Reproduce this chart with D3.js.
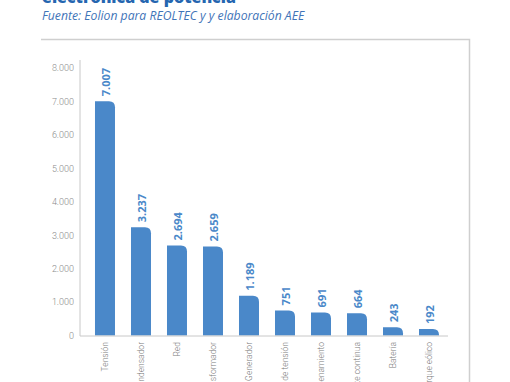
<!DOCTYPE html>
<html><head><meta charset="utf-8">
<script src="https://cdn.jsdelivr.net/npm/d3@7"></script>
<style>body{margin:0;background:#fff}svg{display:block}</style>
</head><body>
<script>
const categories = ["Tensión","Condensador","Red","Transformador","Generador","Regulador de tensión","Almacenamiento","Corriente continua","Batería","Parque eólico"];
const values = [7007,3237,2694,2659,1189,751,691,664,243,192];
const valueLabels = ["7.007","3.237","2.694","2.659","1.189","751","691","664","243","192"];
const yTicks = [0,1000,2000,3000,4000,5000,6000,7000,8000];
const yTickLabels = ["0","1.000","2.000","3.000","4.000","5.000","6.000","7.000","8.000"];
const title = "electrónica de potencia";
const subtitle = "Fuente: Eolion para REOLTEC y y elaboración AEE";

const W = 510, H = 382;
const svg = d3.select("body").append("svg").attr("width", W).attr("height", H);
const blue = "#4a88c9";

svg.append("text").attr("x", 42).attr("y", 3).text(title)
  .attr("font-family", "Open Sans, sans-serif").attr("font-weight", 800)
  .attr("font-size", 16).attr("fill", "#2566b0");
svg.append("text").attr("x", 42).attr("y", 20).text(subtitle)
  .attr("font-family", "Open Sans, sans-serif").attr("font-style", "italic")
  .attr("font-size", 12.2).attr("fill", "#3f74b8");

// frame
svg.append("path").attr("d", "M41,39.5H469.5V382").attr("fill", "none")
  .attr("stroke", "#cfcfcf").attr("stroke-width", 1.5);

const y = d3.scaleLinear().domain([0, 8000]).range([335.5, 68]);
const x = d3.scaleBand().domain(categories).range([80, 448])
  .paddingInner(16/36).paddingOuter(0.333).align(0.625);

// y axis
const yAxis = d3.axisLeft(y).tickValues(yTicks).tickSize(0).tickPadding(6)
  .tickFormat((d, i) => yTickLabels[i]);
const gy = svg.append("g").attr("transform", "translate(80,0)").call(yAxis);
gy.select(".domain").remove();
gy.selectAll("text").attr("font-family", "Roboto, sans-serif").attr("font-size", 9)
  .attr("fill", "#8a8a8a").attr("font-weight", 300);
svg.append("line").attr("x1", 80).attr("x2", 80).attr("y1", 60).attr("y2", 336)
  .attr("stroke", "#c8c8c8").attr("stroke-width", 1);

// bars with rounded top-right
const r = 6;
svg.append("g").selectAll("path").data(values).join("path")
  .attr("d", (d, i) => {
    const x0 = x(categories[i]), w = x.bandwidth(), y0 = y(d), yb = y(0);
    const rr = Math.min(r, yb - y0);
    return `M${x0},${yb}V${y0}H${x0 + w - rr}Q${x0 + w},${y0} ${x0 + w},${y0 + rr}V${yb}Z`;
  })
  .attr("fill", blue);

// baseline
svg.append("line").attr("x1", 80).attr("x2", 448).attr("y1", 336).attr("y2", 336)
  .attr("stroke", "#c8c8c8").attr("stroke-width", 1);

// value labels
svg.append("g").selectAll("text").data(values).join("text")
  .attr("transform", (d, i) => `translate(${x(categories[i]) + x.bandwidth()/2 + 1},${y(d) - 5}) rotate(-90)`)
  .attr("dy", "0.35em")
  .text((d, i) => valueLabels[i])
  .attr("font-family", "Open Sans, sans-serif").attr("font-weight", 700)
  .attr("font-size", 11).attr("fill", blue);

// x labels
svg.append("g").selectAll("text").data(categories).join("text")
  .attr("transform", d => `translate(${x(d) + x.bandwidth()/2},342) rotate(-90)`)
  .attr("dy", "0.35em").attr("text-anchor", "end")
  .text(d => d)
  .attr("font-family", "Roboto, sans-serif").attr("font-weight", 300)
  .attr("font-size", 8.5).attr("fill", "#7a7a7a");
</script>
</body></html>
